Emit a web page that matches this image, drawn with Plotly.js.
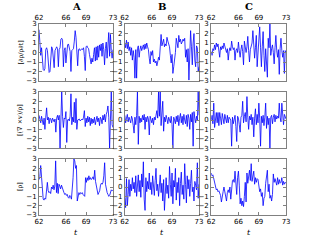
<!DOCTYPE html>
<html><head><meta charset="utf-8">
<script src="https://cdn.plot.ly/plotly-3.0.1.min.js"></script>
<style>html,body{margin:0;padding:0;background:#fff}#chart{width:320px;height:240px}</style>
</head><body><div id="chart"></div>
<script>
// time range and ticks
const tStart = 62, tEnd = 73;
const xTicks = [62, 66, 69, 73];
const yTicks = [-3, -2, -1, 0, 1, 2, 3];
const columnTitles = ["A", "B", "C"];
const rowLabels = ["[∂ρ/ρ∂t]", "[(∇ ×v)/ρ]", "[ρ]"];
const xLabel = "t";

// row 1
const rateA = [2.4,0.6,-0.3,0.5,-1.5,-1.8,-1.9,-1.7,0.3,0.5,0.2,-1.6,-2.1,-2.0,0.0,0.6,0.4,-0.4,-1.6,0.2,0.5,0.6,0.4,-1.5,0.3,0.5,1.4,1.5,1.3,-1.5,0.2,0.5,-1.1,0.3,0.8,0.9,0.6,0.1,-2.0,0.2,0.3,0.4,1.2,2.3,1.6,0.2,-1.4,0.3,0.4,0.2,0.3,0.4,0.3,0.5,-0.4,-1.9,0.6,0.7,0.5,0.4,-0.2,-1.1,-1.2,-0.6,-1.0,-0.2,0.5,-0.9,0.6,-0.8,0.7,-0.5,0.8,0.2,0.9,-0.4,1.0,0.3,-1.3,0.4,1.1,-0.6,0.9,2.1,-0.4,1.9,0.2,-0.6,0.3];
const rateB = [1.0,0.5,1.3,0.4,1.1,0.2,0.6,-0.3,0.5,-0.8,0.2,-0.5,-2.7,0.3,-2.7,0.4,0.7,-0.5,0.3,0.7,0.2,0.6,0.8,0.3,0.9,0.4,1.0,0.6,0.3,-0.6,-1.2,0.1,-0.3,0.2,-1.0,-0.7,-1.1,-0.9,-1.4,-1.0,-0.5,-0.8,1.0,1.9,0.7,1.2,1.4,0.6,0.9,0.7,1.6,1.2,0.8,0.6,-0.3,-1.1,-0.2,-2.2,-1.5,-0.8,0.0,1.5,0.7,0.5,1.8,1.1,1.4,0.9,1.1,1.4,1.2,1.5,-0.5,0.3,-1.0,0.4,-2.9,0.2,2.3,0.6,-1.3,1.0,2.0,-0.8,-1.5,0.7,0.5,-2.0,-1.5];
const rateC = [0.1,-0.3,0.4,0.2,0.8,0.3,1.0,0.6,0.9,0.2,-0.5,0.6,0.3,0.7,0.4,1.0,0.6,0.2,0.0,0.4,-0.8,0.1,0.5,0.2,1.2,0.6,0.3,0.5,-0.8,0.2,0.4,0.0,1.1,0.2,-0.5,0.3,0.8,0.1,-1.3,1.2,0.4,0.0,0.6,1.7,0.2,-1.0,0.3,0.8,1.0,2.3,0.4,-0.6,0.5,1.8,-1.5,0.2,1.0,2.7,0.5,-1.5,0.6,2.2,-0.3,-2.0,0.4,-1.2,-2.6,1.5,0.5,3.0,-0.3,0.4,0.8,0.0,-1.2,0.5,1.8,0.2,-0.5,0.3,-2.3,0.4,1.5,0.2,-0.5,0.2,-2.2,0.2,0.0];
// row 2
const vortA = [0.5,0.1,-0.3,0.4,0.0,-0.5,0.2,-1.0,0.3,1.3,0.0,0.3,-0.4,0.2,0.1,-0.3,0.2,0.0,-0.2,0.1,-1.3,0.2,0.5,0.0,0.5,-3.0,0.6,3.0,0.4,-0.8,0.2,0.1,0.9,-2.4,0.0,0.1,-0.1,0.4,2.8,-0.5,0.3,-0.2,1.9,-0.3,2.3,-1.0,0.0,0.1,0.1,-0.1,0.0,0.1,0.0,0.3,1.0,-0.7,0.2,-0.3,0.4,-0.2,0.3,-0.6,0.2,-0.4,0.1,-0.3,0.3,-0.5,0.0,0.4,-0.2,0.2,-0.6,0.3,0.1,-0.4,0.5,0.0,0.6,-0.2,0.6,0.9,1.5,0.3,-3.0,0.5,3.0,-0.5,-0.8];
const vortB = [0.5,-0.3,0.2,0.6,-0.2,0.3,0.0,-0.3,0.4,0.1,-0.6,-1.4,0.3,-0.5,0.5,3.0,-2.6,0.4,-0.3,0.2,-0.2,0.5,0.0,0.6,-1.0,0.3,-0.2,0.4,0.1,-1.6,0.4,0.1,-0.3,0.2,-0.5,0.3,0.0,0.5,1.0,0.2,3.0,0.4,3.0,-0.6,0.5,2.0,-1.2,0.3,-0.2,0.5,0.1,-0.4,0.3,0.0,-0.3,0.4,-0.5,-3.0,0.3,0.0,-0.4,0.4,-0.2,0.5,-0.6,0.2,0.7,-0.3,0.4,-0.5,0.6,0.0,-0.4,0.5,-0.7,0.6,0.2,-1.0,0.6,-0.2,0.8,-2.8,0.9,0.2,-0.3,0.4,0.0,3.0,0.5];
const vortC = [0.0,0.5,-0.4,1.8,-0.8,0.4,0.8,-0.3,0.8,-0.6,0.8,0.2,-0.5,0.7,0.1,-0.4,0.6,0.2,-0.3,0.5,-0.3,0.3,0.2,0.0,-2.8,0.3,-0.4,0.2,0.5,-0.7,-2.3,0.4,0.2,-0.5,-1.3,0.3,0.5,2.0,-0.3,0.4,0.8,-0.2,2.5,0.3,-1.0,0.4,0.0,0.6,-0.5,0.3,-1.8,0.2,1.2,-0.5,0.6,-0.3,1.8,0.2,-2.8,0.4,-0.3,0.5,-0.6,0.3,1.8,-0.9,0.4,-0.5,0.2,-3.0,0.3,0.5,-0.4,0.3,0.6,-0.2,0.5,0.1,0.4,0.2,1.8,0.3,-0.2,1.8,0.2,-0.5,0.6,0.3,0.1];
// row 3
const densA = [0.8,1.1,2.3,0.9,-1.0,-1.3,-1.4,-1.2,-1.3,0.3,0.5,-0.4,-0.6,-0.5,-0.7,0.0,-0.2,0.2,-0.3,0.1,2.8,-0.6,0.4,-0.7,0.3,0.1,-0.2,0.2,-0.1,-0.5,-0.6,-0.8,-0.7,-0.9,-0.8,-1.1,-1.2,-0.9,-1.0,-1.3,-0.2,1.0,3.0,2.8,2.0,2.3,-1.5,-0.7,-0.6,-0.8,-0.6,-0.7,-0.6,-0.8,-0.9,-1.0,1.0,0.5,1.0,0.7,1.2,0.8,1.0,0.8,0.9,1.1,0.8,1.8,0.6,0.2,-0.5,-0.8,-0.6,-0.4,0.2,0.4,0.3,0.5,1.2,2.6,0.3,-0.3,-0.6,-0.8,-1.0,-0.9,-0.5,-0.3,-0.4,-0.3];
const densB = [-1.2,-2.2,0.9,-2.0,-0.8,0.8,-1.0,0.3,-0.4,1.0,-0.2,0.5,-0.6,1.2,-1.0,0.3,1.3,-0.5,0.7,-1.1,1.4,0.0,2.7,-1.3,-2.5,1.0,-0.5,0.6,-0.2,1.5,-0.3,0.5,-0.8,1.2,0.0,-0.9,0.7,2.0,-0.4,0.3,-1.0,0.5,1.3,-0.6,0.4,-1.5,0.8,-2.5,0.6,1.0,-0.7,0.2,-1.2,2.2,0.3,-1.0,1.5,-1.8,0.7,0.0,2.0,-1.4,0.5,-0.6,1.0,-2.0,0.4,1.6,-0.8,0.2,-1.3,2.5,0.3,-1.7,1.2,-0.2,0.8,-1.0,0.4,1.8,-0.5,0.0,-1.5,0.6,0.2,-0.3,2.6,-1.2,0.3];
const densC = [1.5,1.2,1.3,0.9,0.3,0.0,-0.3,-0.2,-0.5,-0.4,-0.6,-0.9,-1.6,-0.8,-0.5,0.0,-0.4,-0.8,-1.5,-0.6,-0.3,-0.6,0.0,-1.3,0.1,0.7,0.8,0.5,1.7,0.6,-0.8,1.0,1.7,0.2,-1.8,-1.2,-2.0,-1.5,-2.1,-1.0,0.5,-1.6,1.5,0.4,1.0,1.8,0.7,2.5,0.6,1.2,1.7,0.3,1.0,0.5,0.9,0.8,0.2,-0.5,-0.2,-1.0,-0.6,-2.0,-1.2,-1.0,0.4,1.4,1.8,-0.5,0.3,-1.2,-0.9,-1.5,-0.8,1.4,0.5,0.9,0.6,0.2,1.0,0.3,0.8,0.4,0.5,1.0,0.2,0.6,0.3,0.5,0.4];

const grid = [[rateA, rateB, rateC], [vortA, vortB, vortC], [densA, densB, densC]];

const colDomains = [[0.122, 0.353], [0.390, 0.622], [0.660, 0.894]];
const rowDomains = [[0.6625, 0.900], [0.383, 0.617], [0.104, 0.3375]];

const data = [];
const layout = {
  width: 320, height: 240,
  margin: {l: 0, r: 0, t: 0, b: 0},
  paper_bgcolor: '#fff', plot_bgcolor: '#fff',
  showlegend: false,
  font: {family: 'DejaVu Sans', size: 7, color: '#000'},
  annotations: []
};

let k = 0;
for (let r = 0; r < 3; r++) {
  for (let c = 0; c < 3; c++) {
    k++;
    const ys = grid[r][c];
    const n = ys.length;
    const ts = ys.map((_, i) => tStart + i * (tEnd - tStart) / (n - 1));
    const xa = 'x' + (k === 1 ? '' : k), ya = 'y' + (k === 1 ? '' : k);
    data.push({x: ts, y: ys, type: 'scatter', mode: 'lines',
      line: {color: '#0000ff', width: 0.8}, xaxis: xa, yaxis: ya, hoverinfo: 'skip'});
    const axCommon = {showgrid: false, zeroline: false, showline: true, linecolor: '#808080',
      linewidth: 1, mirror: 'ticks', ticks: 'inside', ticklen: 3, tickcolor: '#808080',
      tickfont: {size: 7, color: '#000'}};
    layout['xaxis' + (k === 1 ? '' : k)] = Object.assign({}, axCommon, {
      domain: colDomains[c], range: [tStart, tEnd], anchor: ya,
      tickmode: 'array', tickvals: xTicks, ticktext: xTicks.map(String),
      showticklabels: r !== 1, side: r === 0 ? 'top' : 'bottom'
    });
    layout['yaxis' + (k === 1 ? '' : k)] = Object.assign({}, axCommon, {
      domain: rowDomains[r], range: [-3, 3], anchor: xa,
      tickmode: 'array', tickvals: yTicks, ticktext: yTicks.map(v => v < 0 ? '−' + Math.abs(v) : String(v))
    });
  }
}

for (let c = 0; c < 3; c++) {
  layout.annotations.push({text: '<b>' + columnTitles[c] + '</b>', xref: 'paper', yref: 'paper',
    x: (colDomains[c][0] + colDomains[c][1]) / 2, y: 1 - 6 / 240, xanchor: 'center', yanchor: 'middle',
    showarrow: false, font: {family: 'DejaVu Serif', size: 10, color: '#000'}});
  layout.annotations.push({text: '<i>' + xLabel + '</i>', xref: 'paper', yref: 'paper',
    x: (colDomains[c][0] + colDomains[c][1]) / 2, y: 1 - 232 / 240, xanchor: 'center', yanchor: 'middle',
    showarrow: false, font: {family: 'DejaVu Serif', size: 8, color: '#000'}});
}
for (let r = 0; r < 3; r++) {
  layout.annotations.push({text: rowLabels[r], xref: 'paper', yref: 'paper',
    x: 20 / 320, y: (rowDomains[r][0] + rowDomains[r][1]) / 2, xanchor: 'center', yanchor: 'middle',
    textangle: -90, showarrow: false, font: {family: 'DejaVu Serif', size: 6.5, color: '#000'}});
}

Plotly.newPlot('chart', data, layout, {staticPlot: true, displayModeBar: false});
</script></body></html>
